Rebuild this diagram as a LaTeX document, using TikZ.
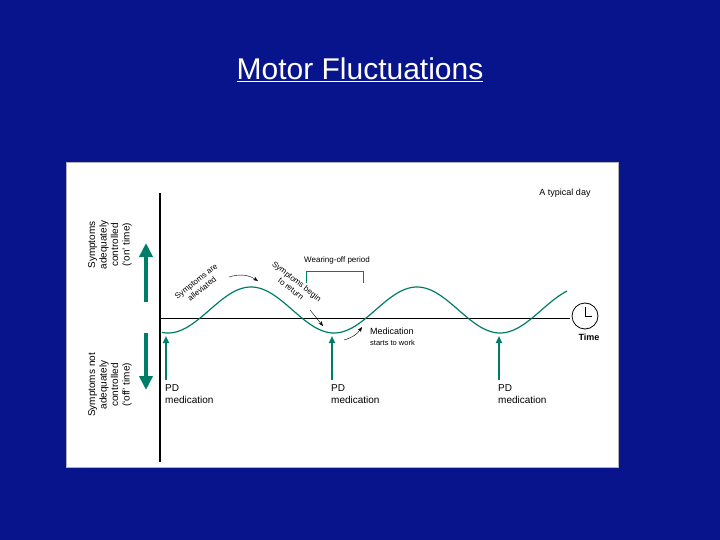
\documentclass[tikz,border=0pt]{standalone}
\usepackage{fontspec}
\setmainfont{Liberation Sans}
\usetikzlibrary{arrows.meta}
\definecolor{bgblue}{RGB}{8,20,140}
\definecolor{teal}{RGB}{0,125,105}
\begin{document}
\begin{tikzpicture}[x=1pt,y=-1pt,
  lab/.style={font=\fontsize{9}{10}\selectfont, inner sep=0pt, align=left},
  medarrow/.style={teal, line width=2pt, -{Triangle[length=7pt,width=6pt]}},
  bigarrow/.style={teal, line width=4.5pt, -{Triangle[length=14pt,width=13pt]}},
  small/.style={-{Stealth[length=5pt]}, thin}]
\fill[bgblue] (0,0) rectangle (720,540);
\node[white, font=\fontsize{30}{32}\selectfont] (title) at (360,70) {\underline{Motor Fluctuations}};
\fill[white, draw=gray!60] (66,162) rectangle (618,467);
\draw[line width=1.4pt] (160,193) -- (160,462);
\draw[thin] (160,318) -- (570,318);
\node[circle, draw, thick, minimum size=26pt, inner sep=0pt] (clock) at (585,316) {};
\draw[thin] (clock.center) -- ++(0,-9) (clock.center) -- ++(7,0);
\node[lab, font=\fontsize{9}{9}\selectfont\bfseries] (time) at (589,337) {Time};
\draw[teal, line width=1.2pt, domain=162:567, samples=200, smooth] plot (\x,{310+23*cos(2.16867*(\x-168))});
\node[lab, rotate=90, align=center, font=\fontsize{10}{11.5}\selectfont] (on) at (110,245) {Symptoms\\adequately\\controlled\\(`on' time)};
\node[lab, rotate=90, align=center, font=\fontsize{10}{11.5}\selectfont] (off) at (110,385) {Symptoms not\\adequately\\controlled\\(`off' time)};
\coordinate (u1) at (146,302); \coordinate (u2) at (146,243);
\coordinate (d1) at (146,333); \coordinate (d2) at (146,390);
\draw[bigarrow] (u1) -- (u2);
\draw[bigarrow] (d1) -- (d2);
\foreach \x/\n in {166/a,332/b,499/c}{
  \coordinate (m\n) at (\x,380); \coordinate (t\n) at (\x,336);
  \draw[medarrow] (m\n) -- (t\n);
  \node[lab, anchor=north west, font=\fontsize{10}{12}\selectfont] (p\n) at (\x-1,384) {PD\\medication};
}
\node[lab, rotate=38, align=center, font=\fontsize{8}{9.5}\selectfont] (alle) at (199,285) {Symptoms are\\alleviated};
\node[lab, rotate=-38, align=center, font=\fontsize{8}{9.5}\selectfont] (ret) at (294,285) {Symptoms begin\\to return};
\coordinate (a1) at (229,277); \coordinate (a2) at (258,281);
\draw[small] (a1) to[bend left=25] (a2);
\coordinate (b1) at (310,310); \coordinate (b2) at (323,326);
\draw[small] (b1) -- (b2);
\coordinate (c1) at (344,340); \coordinate (c2) at (362,327);
\draw[small] (c1) to[bend right=20] (c2);
\node[lab, anchor=west, font=\fontsize{9}{9}\selectfont] (medw) at (370,331) {Medication};
\node[lab, anchor=west, font=\fontsize{7.5}{8}\selectfont] (starts) at (370,343) {starts to work};
\node[lab, font=\fontsize{8}{8}\selectfont] (wear) at (337,260) {Wearing-off period};
\draw[teal, thin] (306,283) -- (306,271) -- (363,271) -- (363,283);
\node[lab, font=\fontsize{9}{9}\selectfont] (day) at (565,193) {A typical day};
\end{tikzpicture}
\end{document}
